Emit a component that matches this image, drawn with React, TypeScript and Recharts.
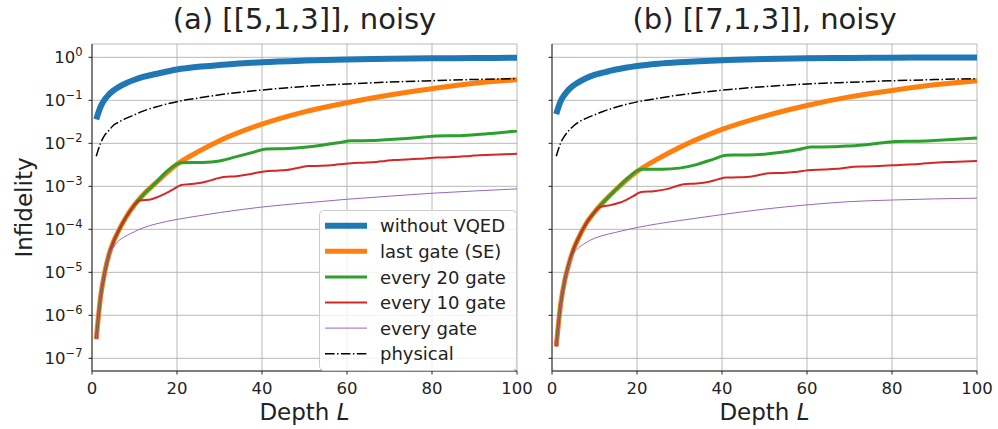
import React from 'react';
import { LineChart, Line, XAxis, YAxis, CartesianGrid } from 'recharts';

// depth grids used by the curves
const L_SMOOTH = [1, 2, 3, 4, 5, 6, 8, 10, 12, 15, 20, 25, 30, 40, 50, 60, 70, 80, 90, 100];
const L_EVERY20 = [1, 2, 3, 4, 5, 6, 8, 10, 12, 15, 18, 21, 26, 30, 34, 38, 41, 46, 50, 54, 58, 61, 66, 70, 74, 78, 81, 86, 90, 94, 100];
const L_EVERY10 = [1, 2, 3, 4, 5, 6, 8, 10, 11, 14, 17, 19, 21, 24, 27, 29, 31, 34, 37, 39, 41, 44, 47, 49, 51, 54, 57, 59, 61, 64, 67, 69, 71, 74, 77, 79, 81, 84, 87, 89, 91, 94, 97, 100];

const X_TICKS = [0, 20, 40, 60, 80, 100];
const Y_TICKS = [1e-7, 1e-6, 1e-5, 1e-4, 1e-3, 1e-2, 1e-1, 1];

// (a) [[5,1,3]]
const blueA = [0.036, 0.07, 0.105, 0.137, 0.168, 0.197, 0.25, 0.30, 0.35, 0.41, 0.52, 0.60, 0.66, 0.77, 0.84, 0.89, 0.92, 0.95, 0.96, 0.975];
const orangeA = [2.8e-7, 2.6e-6, 1.0e-5, 2.6e-5, 5.0e-5, 8.2e-5, 1.9e-4, 3.7e-4, 6.3e-4, 1.2e-3, 3.25e-3, 6.4e-3, 0.0115, 0.028, 0.054, 0.088, 0.133, 0.186, 0.25, 0.30];
const greenA = [2.8e-7, 2.6e-6, 1.0e-5, 2.6e-5, 5.0e-5, 8.2e-5, 1.9e-4, 3.7e-4, 6.3e-4, 1.2e-3, 2.4e-3, 3.55e-3,
  3.6e-3, 3.9e-3, 4.9e-3, 6.2e-3, 7.4e-3,
  7.6e-3, 8.1e-3, 9.0e-3, 1.03e-2, 1.14e-2,
  1.16e-2, 1.22e-2, 1.3e-2, 1.4e-2, 1.48e-2,
  1.5e-2, 1.58e-2, 1.7e-2, 1.93e-2];
const redA = [2.8e-7, 2.6e-6, 1.0e-5, 2.6e-5, 5.0e-5, 8.2e-5, 1.9e-4, 3.7e-4,
  4.6e-4, 5.0e-4, 6.6e-4, 8.4e-4,
  1.07e-3, 1.15e-3, 1.3e-3, 1.48e-3,
  1.65e-3, 1.72e-3, 1.9e-3, 2.1e-3,
  2.25e-3, 2.32e-3, 2.5e-3, 2.75e-3,
  2.95e-3, 3.0e-3, 3.15e-3, 3.3e-3,
  3.45e-3, 3.55e-3, 3.7e-3, 3.9e-3,
  4.1e-3, 4.2e-3, 4.35e-3, 4.5e-3,
  4.65e-3, 4.75e-3, 4.95e-3, 5.1e-3,
  5.3e-3, 5.4e-3, 5.55e-3, 5.7e-3];
const purpleA = [2.8e-7, 2.6e-6, 1.0e-5, 2.5e-5, 3.8e-5, 5.1e-5, 7.0e-5, 8.8e-5, 1.08e-4, 1.33e-4, 1.7e-4, 2.05e-4, 2.45e-4, 3.3e-4, 4.1e-4, 5.0e-4, 5.9e-4, 6.9e-4, 7.8e-4, 8.7e-4];
const physA = [5.0e-3, 0.010, 0.0155, 0.020, 0.026, 0.030, 0.038, 0.046, 0.056, 0.07, 0.093, 0.113, 0.134, 0.174, 0.21, 0.24, 0.265, 0.286, 0.305, 0.32];

// (b) [[7,1,3]]
const blueB = [0.048, 0.094, 0.137, 0.18, 0.22, 0.255, 0.325, 0.39, 0.44, 0.52, 0.63, 0.71, 0.77, 0.86, 0.91, 0.95, 0.97, 0.98, 0.99, 0.993];
const orangeB = [1.9e-7, 1.7e-6, 6.5e-6, 1.6e-5, 3.3e-5, 5.6e-5, 1.35e-4, 2.5e-4, 4.2e-4, 8.3e-4, 2.2e-3, 4.4e-3, 8.0e-3, 0.021, 0.043, 0.076, 0.12, 0.17, 0.23, 0.285];
const greenB = [1.9e-7, 1.7e-6, 6.5e-6, 1.6e-5, 3.3e-5, 5.6e-5, 1.35e-4, 2.5e-4, 4.2e-4, 8.3e-4, 1.6e-3, 2.5e-3,
  2.5e-3, 2.65e-3, 3.2e-3, 4.3e-3, 5.3e-3,
  5.35e-3, 5.6e-3, 6.2e-3, 7.2e-3, 8.2e-3,
  8.3e-3, 8.7e-3, 9.3e-3, 1.03e-2, 1.1e-2,
  1.12e-2, 1.16e-2, 1.22e-2, 1.33e-2];
const redB = [1.9e-7, 1.7e-6, 6.5e-6, 1.6e-5, 3.3e-5, 5.6e-5, 1.35e-4, 2.5e-4,
  3.2e-4, 3.7e-4, 4.6e-4, 5.8e-4,
  7.4e-4, 7.7e-4, 8.6e-4, 9.9e-4,
  1.12e-3, 1.16e-3, 1.28e-3, 1.45e-3,
  1.6e-3, 1.62e-3, 1.7e-3, 1.85e-3,
  2.0e-3, 2.05e-3, 2.15e-3, 2.28e-3,
  2.4e-3, 2.45e-3, 2.55e-3, 2.7e-3,
  2.85e-3, 2.9e-3, 2.98e-3, 3.05e-3,
  3.1e-3, 3.2e-3, 3.35e-3, 3.5e-3,
  3.6e-3, 3.7e-3, 3.8e-3, 3.9e-3];
const purpleB = [1.9e-7, 1.7e-6, 6.3e-6, 1.5e-5, 2.7e-5, 3.5e-5, 4.9e-5, 6.2e-5, 7.2e-5, 8.5e-5, 1.1e-4, 1.35e-4, 1.6e-4, 2.2e-4, 2.95e-4, 3.7e-4, 4.4e-4, 4.8e-4, 5.1e-4, 5.3e-4];
const physB = [5.0e-3, 0.010, 0.015, 0.020, 0.025, 0.030, 0.038, 0.046, 0.055, 0.069, 0.092, 0.112, 0.133, 0.172, 0.208, 0.24, 0.263, 0.285, 0.303, 0.32];

const FONT = '"DejaVu Sans", sans-serif';
const INK = '#222';

const pts = (ls: number[], vs: number[]) => ls.map((L, i) => ({ L, v: vs[i] }));

const series = [
  { name: 'without VQED', color: '#1f77b4', width: 6 },
  { name: 'last gate (SE)', color: '#ff7f0e', width: 5 },
  { name: 'every 20 gate', color: '#2ca02c', width: 3 },
  { name: 'every 10 gate', color: '#d62728', width: 2 },
  { name: 'every gate', color: '#9467bd', width: 1 },
  { name: 'physical', color: '#000000', width: 1.5, dash: '9.6 2.4 1.5 2.4' },
];

const LogTick = (props: any) => {
  const { x, y, payload, show } = props;
  if (!show) return <g />;
  const e = Math.round(Math.log10(payload.value));
  return (
    <text x={x} y={y + 6} textAnchor="end" fontFamily={FONT} fontSize={16.5} fill={INK}>
      <tspan>10</tspan>
      <tspan dy={-7.5} fontSize={11.5}>{e < 0 ? '\u2212' + Math.abs(e) : String(e)}</tspan>
    </text>
  );
};

const Panel = ({ data, showLabels }: { data: { L: number; v: number }[][]; showLabels: boolean }) => (
  <LineChart width={560} height={429} margin={{ top: 44, right: 43, bottom: 0, left: 0 }}>
    <CartesianGrid stroke="#b0b0b0" strokeWidth={0.9} />
    <XAxis
      type="number" dataKey="L" domain={[0, 100]} ticks={X_TICKS} height={58}
      stroke={INK} tickSize={3.5} tickMargin={8}
      tick={{ fontSize: 16.5, fill: INK, fontFamily: FONT }}
    />
    <XAxis xAxisId="top" orientation="top" type="number" domain={[0, 100]} height={0} tick={false} tickLine={false} stroke={INK} />
    <YAxis
      type="number" scale="log" domain={[5.07e-8, 2.04]} allowDataOverflow ticks={Y_TICKS}
      width={92} stroke={INK} tickSize={3.5} tickMargin={6}
      tick={<LogTick show={showLabels} />}
    />
    <YAxis yAxisId="right" orientation="right" width={0} tick={false} tickLine={false} stroke={INK} />
    {series.map((s, i) => (
      <Line
        key={s.name} data={data[i]} dataKey="v" name={s.name} type="monotone"
        stroke={s.color} strokeWidth={s.width} strokeDasharray={s.dash}
        dot={false} activeDot={false} isAnimationActive={false}
      />
    ))}
  </LineChart>
);

const dataA = [pts(L_SMOOTH, blueA), pts(L_SMOOTH, orangeA), pts(L_EVERY20, greenA), pts(L_EVERY10, redA), pts(L_SMOOTH, purpleA), pts(L_SMOOTH, physA)];
const dataB = [pts(L_SMOOTH, blueB), pts(L_SMOOTH, orangeB), pts(L_EVERY20, greenB), pts(L_EVERY10, redB), pts(L_SMOOTH, purpleB), pts(L_SMOOTH, physB)];

export default function App() {
  return (
    <div style={{ position: 'absolute', left: 0, top: 0, width: 998, height: 429, background: '#fff', overflow: 'hidden' }}>
      <div style={{ position: 'absolute', left: 0, top: 0 }}>
        <Panel data={dataA} showLabels />
      </div>
      <div style={{ position: 'absolute', left: 460, top: 0 }}>
        <Panel data={dataB} showLabels={false} />
      </div>
      <svg width={998} height={429} style={{ position: 'absolute', left: 0, top: 0, pointerEvents: 'none' }} fontFamily={FONT} fill={INK}>
        <text x={304.5} y={29} textAnchor="middle" fontSize={29}>(a) [[5,1,3]], noisy</text>
        <text x={764.5} y={29} textAnchor="middle" fontSize={29}>(b) [[7,1,3]], noisy</text>
        <text x={304.5} y={420} textAnchor="middle" fontSize={23}>Depth <tspan fontStyle="italic">L</tspan></text>
        <text x={764.5} y={420} textAnchor="middle" fontSize={23}>Depth <tspan fontStyle="italic">L</tspan></text>
        <text transform="translate(31.5,207.5) rotate(-90)" textAnchor="middle" fontSize={23}>Infidelity</text>
        <g>
          <rect x={319.5} y={210.5} width={197} height={160} rx={4} fill="#fff" fillOpacity={0.8} stroke="#cccccc" />
          {series.map((s, i) => (
            <g key={s.name}>
              <line x1={325} x2={367} y1={225.7 + i * 25.6} y2={225.7 + i * 25.6} stroke={s.color} strokeWidth={s.width} strokeDasharray={s.dash} />
              <text x={380} y={232.3 + i * 25.6} fontSize={18}>{s.name}</text>
            </g>
          ))}
        </g>
      </svg>
    </div>
  );
}
